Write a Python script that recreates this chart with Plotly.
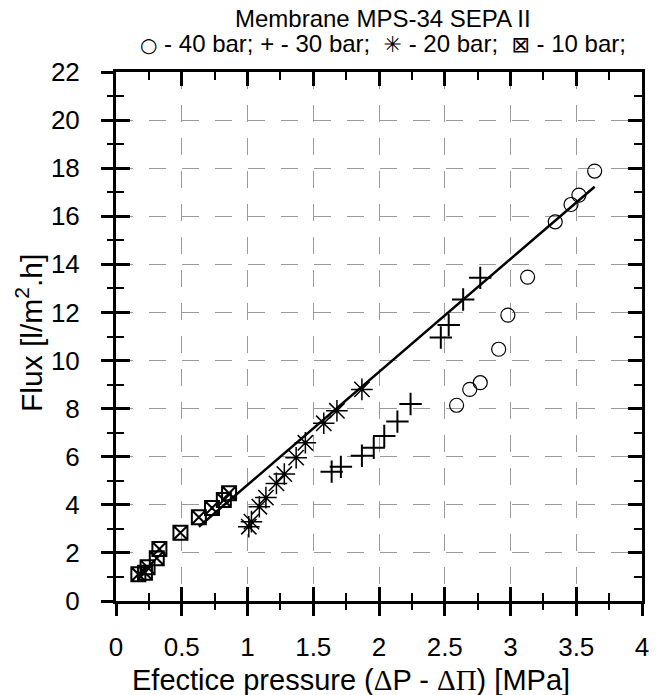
import plotly.graph_objects as go

# Effective pressure (MPa) and permeate flux (l/m2.h) per feed pressure
p40_x = [2.59, 2.69, 2.77, 2.91, 2.98, 3.13, 3.34, 3.46, 3.52, 3.64]
p40_flux = [8.14, 8.80, 9.08, 10.47, 11.89, 13.47, 15.77, 16.49, 16.88, 17.88]

p30_x = [1.64, 1.71, 1.87, 1.96, 2.04, 2.14, 2.24, 2.47, 2.53, 2.64, 2.77]
p30_flux = [5.38, 5.58, 6.04, 6.37, 6.86, 7.46, 8.19, 10.96, 11.48, 12.54, 13.44]

p20_x = [1.01, 1.03, 1.09, 1.14, 1.22, 1.28, 1.37, 1.44, 1.58, 1.68, 1.87]
p20_flux = [3.09, 3.30, 3.92, 4.30, 4.89, 5.28, 5.96, 6.58, 7.39, 7.91, 8.80]

p10_x = [0.17, 0.22, 0.24, 0.31, 0.33, 0.49, 0.63, 0.73, 0.82, 0.86]
p10_flux = [1.11, 1.18, 1.40, 1.78, 2.16, 2.84, 3.48, 3.87, 4.20, 4.48]

# Linear trend line end points
fit_x = [0.63, 3.64]
fit_flux = [3.09, 17.23]

x_ticks = [0, 0.5, 1, 1.5, 2, 2.5, 3, 3.5, 4]
y_ticks = list(range(0, 23, 2))

FONT = "Liberation Sans, Arial, sans-serif"
SYMFONT = "DejaVu Sans, Liberation Sans, sans-serif"

fig = go.Figure()

fig.add_trace(go.Scatter(x=fit_x, y=fit_flux, mode="lines",
                         line=dict(color="black", width=2.5),
                         showlegend=False, hoverinfo="skip"))

series = [
    (p40_x, p40_flux, "circle-open", 14, 1.2),
    (p30_x, p30_flux, "cross-thin-open", 16, 2),
    (p20_x, p20_flux, "asterisk-open", 18, 1.5),
    (p10_x, p10_flux, "square-x-open", 14, 2),
]
for xs, ys, sym, size, lw in series:
    fig.add_trace(go.Scatter(x=xs, y=ys, mode="markers", xaxis="x2", yaxis="y2",
                             marker=dict(symbol=sym, size=size, color="black",
                                         line=dict(color="black", width=lw)),
                             showlegend=False))

grid_style = dict(showgrid=True, gridcolor="#9a9a9a", gridwidth=1, griddash="17px,16px")

# Frame axes: inward ticks, mirrored to top/right, dashed grid
fig.update_layout(
    xaxis=dict(range=[0, 4], tickvals=x_ticks, ticks="inside", ticklen=14, tickwidth=2.5,
               tickcolor="black", showline=True, linewidth=2.5, linecolor="black",
               mirror="ticks", showticklabels=False, zeroline=False,
               minor=dict(dtick=0.25, ticks="inside", ticklen=8, tickwidth=2,
                          tickcolor="black", showgrid=False),
               **grid_style),
    yaxis=dict(range=[0, 22], tickvals=y_ticks, ticks="inside", ticklen=14, tickwidth=2.5,
               tickcolor="black", showline=True, linewidth=2.5, linecolor="black",
               mirror="ticks", showticklabels=False, zeroline=False,
               minor=dict(dtick=1, ticks="inside", ticklen=8, tickwidth=2,
                          tickcolor="black", showgrid=False),
               **grid_style),
    # Outward tick halves and labels on the bottom and left
    xaxis2=dict(range=[0, 4], tickvals=x_ticks, ticktext=[f"{v:g}" for v in x_ticks],
                overlaying="x", anchor="y2", side="bottom",
                ticks="outside", ticklen=14, tickwidth=2.5, tickcolor="black",
                minor=dict(dtick=0.25, ticks="outside", ticklen=8, tickwidth=2,
                           tickcolor="black", showgrid=False),
                showgrid=False, zeroline=False, showline=False,
                tickfont=dict(family=FONT, size=26, color="black"),
                ticklabelstandoff=9),
    yaxis2=dict(range=[0, 22], tickvals=y_ticks, ticktext=[str(v) for v in y_ticks],
                overlaying="y", anchor="x2", side="left",
                ticks="outside", ticklen=14, tickwidth=2.5, tickcolor="black",
                minor=dict(dtick=1, ticks="outside", ticklen=8, tickwidth=2,
                           tickcolor="black", showgrid=False),
                showgrid=False, zeroline=False, showline=False,
                tickfont=dict(family=FONT, size=26, color="black"),
                ticklabelstandoff=16),
    width=661, height=695,
    margin=dict(l=116, r=16, t=72, b=94),
    paper_bgcolor="white", plot_bgcolor="white",
    showlegend=False,
)

serif = "font-family:'Liberation Serif','Times New Roman',serif"
fig.add_annotation(
    text=f"Efectice pressure (<span style=\"{serif}\">Δ</span>P - "
         f"<span style=\"{serif}\">ΔΠ</span>) [MPa]",
    xref="paper", yref="paper", x=0.446, y=-0.149, xanchor="center", yanchor="middle",
    showarrow=False, font=dict(family=FONT, size=29, color="black"))

fig.add_annotation(
    text="Flux [l/m<sup>2</sup>.h]",
    xref="paper", yref="paper", x=-0.165, y=0.507, xanchor="center", yanchor="middle",
    textangle=-90, showarrow=False, font=dict(family=FONT, size=30, color="black"))

fig.add_annotation(
    text="Membrane MPS-34 SEPA II",
    xref="paper", yref="paper", x=0.508, y=1.102, xanchor="center", yanchor="middle",
    showarrow=False, font=dict(family=FONT, size=24, color="black"))

fig.add_annotation(
    text=f"<span style=\"font-family:{SYMFONT};font-size:20px\">○</span> - 40 bar; + - 30 bar;  "
         f"<span style=\"font-family:{SYMFONT};font-size:22px\">✳</span> - 20 bar;  "
         f"<span style=\"font-family:{SYMFONT};font-size:22px\">⊠</span> - 10 bar;",
    xref="paper", yref="paper", x=0.508, y=1.053, xanchor="center", yanchor="middle",
    showarrow=False, font=dict(family=FONT, size=24, color="black"))

fig.write_html("out.html")
